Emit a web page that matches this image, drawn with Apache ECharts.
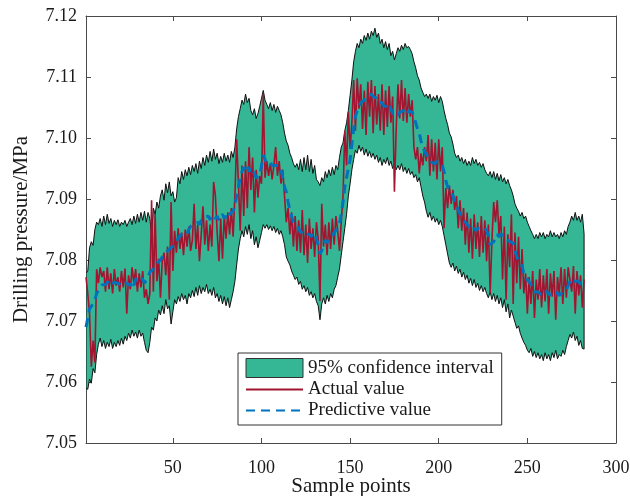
<!DOCTYPE html>
<html><head><meta charset="utf-8">
<script src="https://cdn.jsdelivr.net/npm/echarts@6/dist/echarts.min.js"></script>
<style>html,body{margin:0;padding:0;background:#fff}#c{width:630px;height:496px}</style>
</head><body><div id="c"></div>
<script>
const xTicks = [50, 100, 150, 200, 250, 300];
const seriesNames = ['95% confidence interval', 'Actual value', 'Predictive value'];

const predictive = [
7.0690,7.0705,7.0720,7.0722,7.0728,7.0735,7.0745,7.0750,7.0752,7.0759,
7.0757,7.0760,7.0763,7.0766,7.0760,7.0758,7.0763,7.0760,7.0762,7.0763,
7.0758,7.0762,7.0760,7.0762,7.0760,7.0758,7.0765,7.0758,7.0768,7.0772,
7.0775,7.0773,7.0768,7.0762,7.0765,7.0772,7.0780,7.0778,7.0785,7.0790,
7.0795,7.0798,7.0800,7.0805,7.0810,7.0808,7.0815,7.0818,7.0820,7.0822,
7.0828,7.0830,7.0835,7.0840,7.0838,7.0845,7.0848,7.0843,7.0850,7.0855,
7.0852,7.0858,7.0855,7.0862,7.0858,7.0865,7.0862,7.0870,7.0868,7.0872,
7.0866,7.0870,7.0874,7.0868,7.0872,7.0865,7.0870,7.0875,7.0868,7.0872,
7.0868,7.0875,7.0872,7.0880,7.0890,7.0905,7.0920,7.0935,7.0945,7.0952,
7.0948,7.0955,7.0945,7.0952,7.0948,7.0942,7.0935,7.0932,7.0938,7.0955,
7.0972,7.0965,7.0958,7.0955,7.0960,7.0955,7.0958,7.0955,7.0952,7.0955,
7.0948,7.0935,7.0920,7.0912,7.0895,7.0882,7.0872,7.0862,7.0858,7.0855,
7.0852,7.0845,7.0842,7.0848,7.0843,7.0840,7.0842,7.0838,7.0845,7.0840,
7.0835,7.0825,7.0810,7.0815,7.0828,7.0832,7.0828,7.0835,7.0832,7.0838,
7.0845,7.0848,7.0852,7.0860,7.0875,7.0895,7.0920,7.0935,7.0950,7.0965,
7.0990,7.1015,7.1035,7.1045,7.1052,7.1058,7.1060,7.1062,7.1065,7.1070,
7.1068,7.1072,7.1068,7.1070,7.1065,7.1058,7.1055,7.1058,7.1052,7.1055,
7.1052,7.1056,7.1048,7.1040,7.1035,7.1032,7.1038,7.1042,7.1040,7.1045,
7.1042,7.1038,7.1045,7.1048,7.1042,7.1035,7.1025,7.1015,7.1008,7.0995,
7.0985,7.0978,7.0972,7.0972,7.0968,7.0960,7.0962,7.0958,7.0962,7.0958,
7.0960,7.0955,7.0945,7.0930,7.0920,7.0915,7.0912,7.0905,7.0895,7.0890,
7.0888,7.0875,7.0868,7.0865,7.0862,7.0858,7.0855,7.0852,7.0848,7.0852,
7.0848,7.0852,7.0855,7.0850,7.0848,7.0852,7.0848,7.0840,7.0825,7.0822,
7.0830,7.0838,7.0842,7.0838,7.0842,7.0845,7.0840,7.0835,7.0832,7.0830,
7.0832,7.0828,7.0815,7.0805,7.0800,7.0795,7.0790,7.0778,7.0772,7.0768,
7.0765,7.0760,7.0752,7.0748,7.0745,7.0748,7.0745,7.0742,7.0748,7.0745,
7.0748,7.0745,7.0742,7.0748,7.0745,7.0748,7.0745,7.0742,7.0745,7.0748,
7.0745,7.0750,7.0758,7.0765,7.0770,7.0768,7.0765,7.0762,7.0765,7.0760,
7.0758,7.0762
];

const upper = [
7.0778,7.0782,7.0820,7.0830,7.0824,7.0850,7.0862,7.0858,7.0868,7.0855,
7.0872,7.0858,7.0875,7.0860,7.0868,7.0855,7.0865,7.0858,7.0866,7.0855,
7.0862,7.0858,7.0865,7.0855,7.0862,7.0868,7.0858,7.0872,7.0860,7.0875,
7.0862,7.0878,7.0865,7.0880,7.0862,7.0878,7.0868,7.0843,7.0885,7.0875,
7.0895,7.0885,7.0905,7.0915,7.0898,7.0925,7.0910,7.0928,7.0905,7.0912,
7.0895,7.0902,7.0935,7.0925,7.0945,7.0932,7.0948,7.0938,7.0952,7.0940,
7.0955,7.0945,7.0958,7.0942,7.0962,7.0950,7.0968,7.0955,7.0972,7.0960,
7.0978,7.0962,7.0982,7.0965,7.0975,7.0958,7.0970,7.0960,7.0975,7.0962,
7.0972,7.0960,7.0978,7.0968,7.0985,7.1015,7.1035,7.1048,7.1062,7.1055,
7.1072,7.1058,7.1065,7.1045,7.1038,7.1048,7.1032,7.1040,7.1052,7.1065,
7.1078,7.1062,7.1055,7.1048,7.1058,7.1045,7.1055,7.1042,7.1052,7.1045,
7.1038,7.1025,7.1008,7.0995,7.0988,7.0975,7.0968,7.0958,7.0952,7.0958,
7.0948,7.0965,7.0945,7.0968,7.0948,7.0972,7.0945,7.0965,7.0942,7.0955,
7.0932,7.0928,7.0922,7.0935,7.0928,7.0945,7.0935,7.0948,7.0938,7.0952,
7.0940,7.0955,7.0948,7.0968,7.0985,7.0992,7.1012,7.1025,7.1045,7.1070,
7.1095,7.1125,7.1142,7.1155,7.1148,7.1162,7.1155,7.1168,7.1160,7.1172,
7.1162,7.1175,7.1168,7.1180,7.1165,7.1172,7.1155,7.1162,7.1148,7.1158,
7.1145,7.1155,7.1135,7.1142,7.1128,7.1138,7.1148,7.1142,7.1152,7.1145,
7.1155,7.1148,7.1150,7.1145,7.1138,7.1125,7.1115,7.1102,7.1095,7.1082,
7.1075,7.1068,7.1072,7.1065,7.1072,7.1060,7.1068,7.1062,7.1070,7.1058,
7.1068,7.1060,7.1045,7.1032,7.1022,7.1008,7.1002,7.0990,7.0975,7.0968,
7.0972,7.0962,7.0968,7.0958,7.0965,7.0955,7.0962,7.0955,7.0968,7.0958,
7.0965,7.0955,7.0960,7.0952,7.0958,7.0948,7.0942,7.0938,7.0945,7.0935,
7.0945,7.0932,7.0942,7.0930,7.0940,7.0928,7.0935,7.0925,7.0932,7.0922,
7.0915,7.0905,7.0892,7.0885,7.0880,7.0872,7.0878,7.0868,7.0872,7.0862,
7.0855,7.0848,7.0842,7.0835,7.0842,7.0835,7.0845,7.0838,7.0845,7.0835,
7.0842,7.0838,7.0848,7.0838,7.0845,7.0838,7.0842,7.0835,7.0845,7.0838,
7.0848,7.0842,7.0855,7.0862,7.0872,7.0865,7.0878,7.0865,7.0872,7.0862,
7.0875,7.0843
];

const lower = [
7.0590,7.0588,7.0605,7.0598,7.0622,7.0615,7.0645,7.0662,7.0672,7.0658,
7.0668,7.0655,7.0665,7.0658,7.0670,7.0655,7.0665,7.0658,7.0668,7.0660,
7.0672,7.0662,7.0675,7.0668,7.0680,7.0672,7.0685,7.0675,7.0682,7.0672,
7.0685,7.0675,7.0680,7.0665,7.0652,7.0648,7.0665,7.0690,7.0685,7.0705,
7.0700,7.0718,7.0710,7.0725,7.0712,7.0735,7.0720,7.0725,7.0695,7.0715,
7.0735,7.0728,7.0740,7.0732,7.0745,7.0735,7.0742,7.0728,7.0745,7.0738,
7.0750,7.0740,7.0755,7.0742,7.0758,7.0745,7.0755,7.0748,7.0760,7.0745,
7.0752,7.0742,7.0755,7.0738,7.0745,7.0732,7.0742,7.0728,7.0740,7.0725,
7.0738,7.0722,7.0735,7.0748,7.0765,7.0792,7.0818,7.0835,7.0848,7.0838,
7.0855,7.0842,7.0858,7.0835,7.0848,7.0825,7.0838,7.0820,7.0832,7.0845,
7.0858,7.0852,7.0858,7.0850,7.0856,7.0848,7.0855,7.0845,7.0852,7.0842,
7.0848,7.0838,7.0825,7.0805,7.0798,7.0792,7.0782,7.0775,7.0768,7.0772,
7.0760,7.0765,7.0752,7.0758,7.0748,7.0755,7.0742,7.0748,7.0738,7.0745,
7.0732,7.0725,7.0702,7.0728,7.0738,7.0728,7.0742,7.0732,7.0745,7.0738,
7.0752,7.0758,7.0772,7.0785,7.0808,7.0830,7.0852,7.0875,7.0905,7.0925,
7.0948,7.0965,7.0980,7.0975,7.0988,7.0978,7.0985,7.0972,7.0982,7.0970,
7.0978,7.0968,7.0975,7.0965,7.0972,7.0960,7.0968,7.0955,7.0965,7.0958,
7.0968,7.0955,7.0962,7.0950,7.0958,7.0948,7.0955,7.0948,7.0958,7.0945,
7.0952,7.0942,7.0950,7.0940,7.0945,7.0935,7.0940,7.0928,7.0935,7.0920,
7.0905,7.0895,7.0880,7.0870,7.0878,7.0865,7.0872,7.0862,7.0868,7.0858,
7.0865,7.0855,7.0840,7.0825,7.0810,7.0795,7.0788,7.0795,7.0782,7.0790,
7.0778,7.0785,7.0772,7.0780,7.0768,7.0775,7.0762,7.0770,7.0758,7.0768,
7.0755,7.0762,7.0750,7.0758,7.0748,7.0755,7.0745,7.0738,7.0748,7.0735,
7.0745,7.0732,7.0742,7.0728,7.0738,7.0722,7.0735,7.0715,7.0728,7.0705,
7.0718,7.0708,7.0698,7.0688,7.0692,7.0680,7.0672,7.0665,7.0660,7.0652,
7.0648,7.0655,7.0642,7.0650,7.0640,7.0648,7.0638,7.0645,7.0635,7.0648,
7.0638,7.0645,7.0635,7.0648,7.0640,7.0652,7.0638,7.0645,7.0642,7.0652,
7.0645,7.0658,7.0668,7.0678,7.0672,7.0682,7.0668,7.0675,7.0660,7.0668,
7.0655,7.0654
];

const actual = [
7.0772,7.0745,7.0712,7.0625,7.0668,7.0632,7.0785,7.0762,7.0788,7.0772,
7.0782,7.0748,7.0788,7.0752,7.0778,7.0745,7.0785,7.0758,7.0772,7.0748,
7.0782,7.0755,7.0786,7.0712,7.0775,7.0752,7.0788,7.0762,7.0785,7.0748,
7.0778,7.0755,7.0782,7.0738,7.0752,7.0728,7.0745,7.0898,7.0748,7.0875,
7.0765,7.0802,7.0738,7.0798,7.0812,7.0775,7.0822,7.0735,7.0895,7.0782,
7.0848,7.0812,7.0852,7.0818,7.0845,7.0808,7.0850,7.0822,7.0855,7.0815,
7.0832,7.0892,7.0818,7.0858,7.0798,7.0842,7.0888,7.0825,7.0865,7.0815,
7.0858,7.0822,7.0928,7.0905,7.0845,7.0798,7.0868,7.0802,7.0872,7.0835,
7.0878,7.0842,7.0885,7.0838,7.0905,7.0998,7.0925,7.0848,7.0955,7.0872,
7.0962,7.0885,7.0985,7.0915,7.0968,7.0878,7.0948,7.0902,7.0938,7.0925,
7.1072,7.0935,7.0962,7.0938,7.0958,7.0932,7.0955,7.0985,7.0938,7.0962,
7.0925,7.0948,7.0905,7.0862,7.0885,7.0842,7.0878,7.0822,7.0872,7.0815,
7.0865,7.0812,7.0882,7.0808,7.0858,7.0795,7.0868,7.0818,7.0852,7.0805,
7.0862,7.0835,7.0733,7.0892,7.0822,7.0858,7.0808,7.0862,7.0818,7.0868,
7.0825,7.0872,7.0848,7.0815,7.0862,7.0905,7.1012,7.0955,7.1042,7.0982,
7.1025,7.1095,7.1012,7.1098,7.1048,7.1088,7.1015,7.1078,7.1005,7.1092,
7.1035,7.1095,7.1008,7.1085,7.1022,7.1072,7.1012,7.1088,7.1005,7.1078,
7.1018,7.1085,7.1025,7.1068,7.0912,7.1015,7.1088,7.1032,7.1095,7.1028,
7.1082,7.1025,7.1072,7.1035,7.1062,7.0985,7.0965,7.0985,7.0942,7.0975,
7.0955,7.0985,7.0962,7.1005,7.0938,7.0998,7.0945,7.0992,7.0932,7.0998,
7.0945,7.0985,7.0852,7.0918,7.0885,7.0922,7.0892,7.0915,7.0882,7.0905,
7.0852,7.0898,7.0848,7.0885,7.0825,7.0878,7.0812,7.0868,7.0802,7.0875,
7.0818,7.0862,7.0805,7.0872,7.0812,7.0865,7.0798,7.0858,7.0745,7.0832,
7.0895,7.0862,7.0898,7.0842,7.0872,7.0768,7.0855,7.0735,7.0842,7.0788,
7.0875,7.0728,7.0845,7.0762,7.0838,7.0752,7.0818,7.0745,7.0778,7.0712,
7.0772,7.0728,7.0782,7.0705,7.0768,7.0735,7.0785,7.0722,7.0775,7.0732,
7.0785,7.0712,7.0778,7.0740,7.0782,7.0702,7.0772,7.0745,7.0788,7.0728,
7.0785,7.0738,7.0788,7.0788,7.0748,7.0790,7.0712,7.0782,7.0742,7.0775,
7.0722,7.0768
];

const FONT = 'Liberation Serif';
const AXIS_COLOR = '#4a4a4a';
const TEXT_COLOR = '#1a1a1a';
const BAND_COLOR = '#35b795';

const xs = actual.map((_, i) => i + 1);
const toPairs = arr => arr.map((v, i) => [xs[i], v]);

const chart = echarts.init(document.getElementById('c'), null, {renderer: 'canvas'});

const axisLine = {show: true, onZero: false, lineStyle: {color: AXIS_COLOR, width: 1}};
const tickStyle = {color: AXIS_COLOR, width: 1};

// Band polygon: upper boundary forward, lower boundary backward, via the axis scales.
function renderBand(params, api) {
  if (params.dataIndex !== 0) return null;
  const pts = [];
  for (let i = 0; i < xs.length; i++) pts.push(api.coord([xs[i], upper[i]]));
  for (let i = xs.length - 1; i >= 0; i--) pts.push(api.coord([xs[i], lower[i]]));
  return {
    type: 'polygon',
    shape: {points: pts},
    style: {fill: BAND_COLOR, stroke: '#111', lineWidth: 1}
  };
}

chart.setOption({
  animation: false,
  backgroundColor: '#fff',
  grid: {left: 86, right: 14, top: 16, bottom: 53, containLabel: false, outerBoundsMode: 'none'},
  xAxis: [
    {
      type: 'value', min: 1, max: 300, position: 'bottom',
      axisLine: axisLine,
      axisTick: {show: true, inside: true, length: 5, customValues: xTicks, lineStyle: tickStyle},
      axisLabel: {show: true, customValues: xTicks, color: TEXT_COLOR, fontFamily: FONT, fontSize: 18, margin: 16},
      splitLine: {show: false},
      name: 'Sample points', nameLocation: 'middle', nameGap: 33, nameMoveOverlap: false,
      nameTextStyle: {color: TEXT_COLOR, fontFamily: FONT, fontSize: 21}
    },
    {
      type: 'value', min: 1, max: 300, position: 'top',
      axisLine: axisLine,
      axisTick: {show: true, inside: true, length: 5, customValues: xTicks, lineStyle: tickStyle},
      axisLabel: {show: false},
      splitLine: {show: false}
    }
  ],
  yAxis: [
    {
      type: 'value', min: 7.05, max: 7.12, interval: 0.01, position: 'left',
      axisLine: axisLine,
      axisTick: {show: true, inside: true, length: 5, lineStyle: tickStyle},
      axisLabel: {color: TEXT_COLOR, fontFamily: FONT, fontSize: 18, margin: 9,
                  formatter: v => v.toFixed(2)},
      splitLine: {show: false},
      name: 'Drilling pressure/MPa', nameLocation: 'middle', nameGap: 54, nameMoveOverlap: false,
      nameTextStyle: {color: TEXT_COLOR, fontFamily: FONT, fontSize: 21}
    },
    {
      type: 'value', min: 7.05, max: 7.12, interval: 0.01, position: 'right',
      axisLine: axisLine,
      axisTick: {show: true, inside: true, length: 5, lineStyle: tickStyle},
      axisLabel: {show: false},
      splitLine: {show: false}
    }
  ],
  legend: {
    orient: 'vertical', left: 238, top: 353,
    backgroundColor: '#fff', borderColor: '#333', borderWidth: 1, borderRadius: 0,
    padding: [5, 8, 5, 7], itemWidth: 57, itemHeight: 19, itemGap: 2,
    textStyle: {color: TEXT_COLOR, fontFamily: FONT, fontSize: 19},
    data: [
      {name: seriesNames[0], icon: 'rect', itemStyle: {color: BAND_COLOR, borderColor: '#333', borderWidth: 1}},
      {name: seriesNames[1], itemStyle: {opacity: 0}},
      {name: seriesNames[2], itemStyle: {opacity: 0}}
    ]
  },
  series: [
    {
      name: seriesNames[0], type: 'custom', renderItem: renderBand,
      data: toPairs(upper), encode: {x: 0, y: 1},
      silent: true, z: 1, clip: true,
      itemStyle: {color: BAND_COLOR}
    },
    {
      name: seriesNames[1], type: 'line', data: toPairs(actual),
      symbol: 'none', z: 3,
      lineStyle: {color: '#a2142f', width: 1.6},
      itemStyle: {color: '#a2142f'}
    },
    {
      name: seriesNames[2], type: 'line', data: toPairs(predictive),
      symbol: 'none', z: 4,
      lineStyle: {color: '#0072bd', width: 3, type: [9, 6]},
      itemStyle: {color: '#0072bd'}
    }
  ]
});
</script>
</body></html>
